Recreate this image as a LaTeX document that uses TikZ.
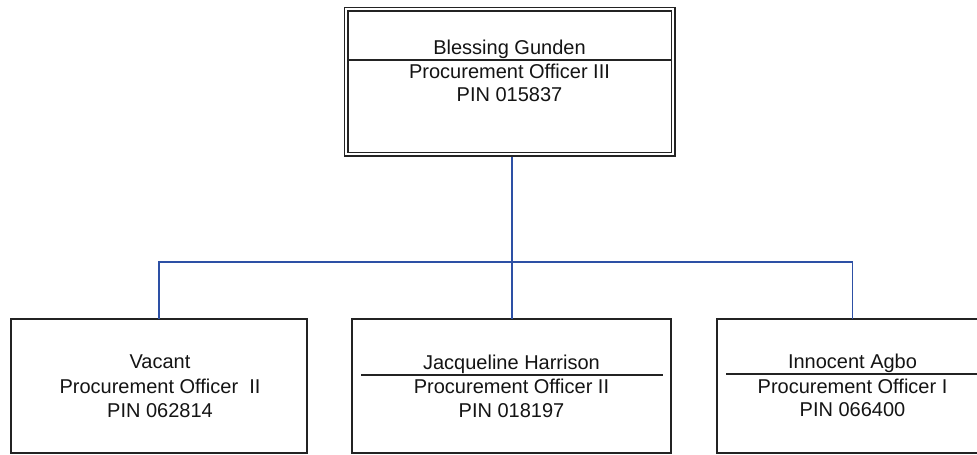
\documentclass[tikz,border=0pt]{standalone}
\usepackage{fontspec}
\setmainfont{Liberation Sans}
\definecolor{conn}{RGB}{45,80,165}
\definecolor{boxline}{RGB}{35,35,35}
\definecolor{txtcol}{RGB}{20,20,20}
\begin{document}
\begin{tikzpicture}[x=1pt,y=-1pt,
  box/.style={draw=boxline, line width=1.4pt, rectangle, inner sep=0pt, outer sep=0pt, minimum height=134pt},
  topbox/.style={draw=boxline, line width=1.2pt, double=white, double distance=2.6pt, rectangle, inner sep=0pt, outer sep=0pt},
  txt/.style={font=\fontsize{20}{24}\selectfont, text=txtcol, anchor=base, inner sep=0pt},
  sep/.style={draw=boxline, line width=1.3pt},
  link/.style={draw=conn, line width=1.3pt}]
\clip (0,0) rectangle (977,455);
\fill[white] (0,0) rectangle (977,455);
% boxes
\node[topbox, minimum width=327pt, minimum height=145pt] (top) at (509.5,81.5) {};
\node[box, minimum width=296pt] (a) at (159,386) {};
\node[box, minimum width=319pt] (b) at (511.5,386) {};
\node[box, minimum width=271pt] (c) at (852.5,386) {};
% separators
\draw[sep] (348,60) -- (671,60);
\draw[sep] (361,375) -- (663,375);
\draw[sep] (726,374) -- (990,374);
% texts
\node[txt] (t1) at (509.5,54) {Blessing Gunden};
\node[txt] (t2) at (509.5,78) {Procurement Officer III};
\node[txt] (t3) at (509.5,101) {PIN 015837};
\node[txt] (a1) at (160,368) {Vacant};
\node[txt] (a2) at (160,393) {Procurement Officer~~II};
\node[txt] (a3) at (160,417) {PIN 062814};
\node[txt] (b1) at (511.5,369) {Jacqueline Harrison};
\node[txt] (b2) at (511.5,393) {Procurement Officer II};
\node[txt] (b3) at (511.5,417) {PIN 018197};
\node[txt] (c1) at (852.5,368) {Innocent Agbo};
\node[txt] (c2) at (852.5,393) {Procurement Officer I};
\node[txt] (c3) at (852.5,416) {PIN 066400};
% connectors
\coordinate (bar) at (512,262);
\draw[link] ([yshift=-2.5pt]top.south -| bar) -- (b.north -| bar);
\draw[link] (a.north) |- (bar) -| (c.north);
\end{tikzpicture}
\end{document}
